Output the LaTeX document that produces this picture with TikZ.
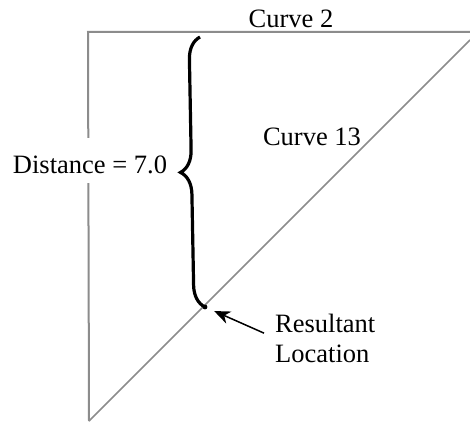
\documentclass[tikz,border=0pt]{standalone}
\usepackage{fontspec}
\setmainfont{Liberation Serif}
\usetikzlibrary{decorations.pathreplacing,arrows.meta}
\begin{document}
\begin{tikzpicture}[x=1pt,y=1pt,
  curveline/.style={draw={rgb,255:red,140;green,140;blue,140},line width=2pt},
  lbl/.style={font=\fontsize{26.5}{30}\selectfont,inner sep=0pt},
  bracestyle/.style={draw=black,line width=3.2pt,decorate,decoration={brace,amplitude=22pt}},
  pointer/.style={draw=black,line width=1.5pt,-{Stealth[length=16pt,width=13pt,inset=5pt]}}]
\fill[white] (0,0) rectangle (470,421);
\useasboundingbox (0,0) rectangle (470,421);
% curves
\coordinate (tl) at (88,389);
\coordinate (tr) at (470,389);
\coordinate (bl) at (89,0);
\coordinate (dr) at (470,381);
\draw[curveline] (tr) -- (tl) -- (bl);
\draw[curveline,line width=1.6pt] (bl) -- (dr);
% resultant point and brace
\coordinate (res) at (205,114);
\coordinate (btop) at (200,384);
\draw[bracestyle] (res) -- (btop);
\fill[black] (res) circle (2.4pt);
% labels
\node[lbl,anchor=base] (c2) at (291,393) {Curve 2};
\node[lbl,anchor=base] (c13) at (312,276) {Curve 13};
\node[lbl,anchor=base,fill=white,text height=35pt,text depth=10pt,inner xsep=2pt] (dist) at (90,248) {Distance = 7.0};
\node[lbl,anchor=west,align=left] (rl) at (275,83) {Resultant\\Location};
\draw[pointer,shorten <=12pt,shorten >=10pt] (rl.west) -- (res);
\end{tikzpicture}
\end{document}
